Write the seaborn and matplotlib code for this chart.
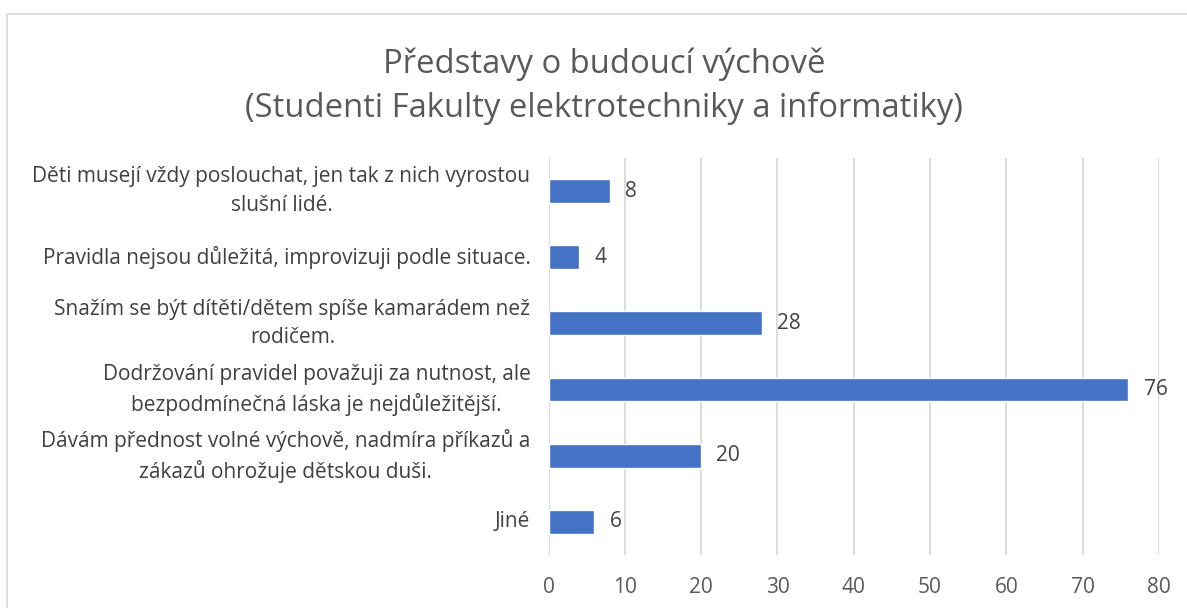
import pandas as pd
import matplotlib.pyplot as plt
import seaborn as sns
from matplotlib.patches import Rectangle

# Data
categories = [
    "Děti musejí vždy poslouchat, jen tak z nich vyrostou\nslušní lidé.",
    "Pravidla nejsou důležitá, improvizuji podle situace.",
    "Snažím se být dítěti/dětem spíše kamarádem než\nrodičem.",
    "Dodržování pravidel považuji za nutnost, ale\nbezpodmínečná láska je nejdůležitější.",
    "Dávám přednost volné výchově, nadmíra příkazů a\nzákazů ohrožuje dětskou duši.",
    "Jiné",
]
values = [8, 4, 28, 76, 20, 6]
x_ticks = [0, 10, 20, 30, 40, 50, 60, 70, 80]

df = pd.DataFrame({"kategorie": categories, "pocet": values})

sns.set_style("white")
plt.rcParams['font.family'] = ['Open Sans', 'DejaVu Sans']

fig = plt.figure(figsize=(11.87, 6.08), dpi=100)
ax = fig.add_axes([0.4621, 0.0872, 0.5143, 0.6530])

sns.barplot(data=df, x="pocet", y="kategorie", color="#4472C4",
            width=0.36, saturation=1, ax=ax, orient="h")

ax.set_xlim(0, 80)
ax.set_xticks(x_ticks)
ax.xaxis.grid(True, color="#d9d9d9", linewidth=1.3)
ax.set_axisbelow(True)
for s in ax.spines.values():
    s.set_visible(False)
ax.set_xlabel("")
ax.set_ylabel("")
ax.tick_params(axis="x", length=0, pad=16, labelsize=15, labelcolor="#595959")
ax.tick_params(axis="y", length=0, pad=13, labelsize=15, labelcolor="#404040")
for lab in ax.get_yticklabels():
    lab.set_multialignment("center")
    lab.set_linespacing(1.45)
    lab.set_va("center")

for cont in ax.containers:
    ax.bar_label(cont, padding=11, fontsize=15, color="#404040")

fig.text(0.509, 0.858, "Představy o budoucí výchově\n(Studenti Fakulty elektrotechniky a informatiky)",
         ha="center", va="center", fontsize=23.6, color="#595959", linespacing=1.4)

# chart border
fig.patches.append(Rectangle((7 / 1187, -0.5), 2, 1.5 - 14 / 608,
                             transform=fig.transFigure, fill=False,
                             edgecolor="#d9d9d9", linewidth=1.2))

plt.savefig("out.png", dpi=100)
